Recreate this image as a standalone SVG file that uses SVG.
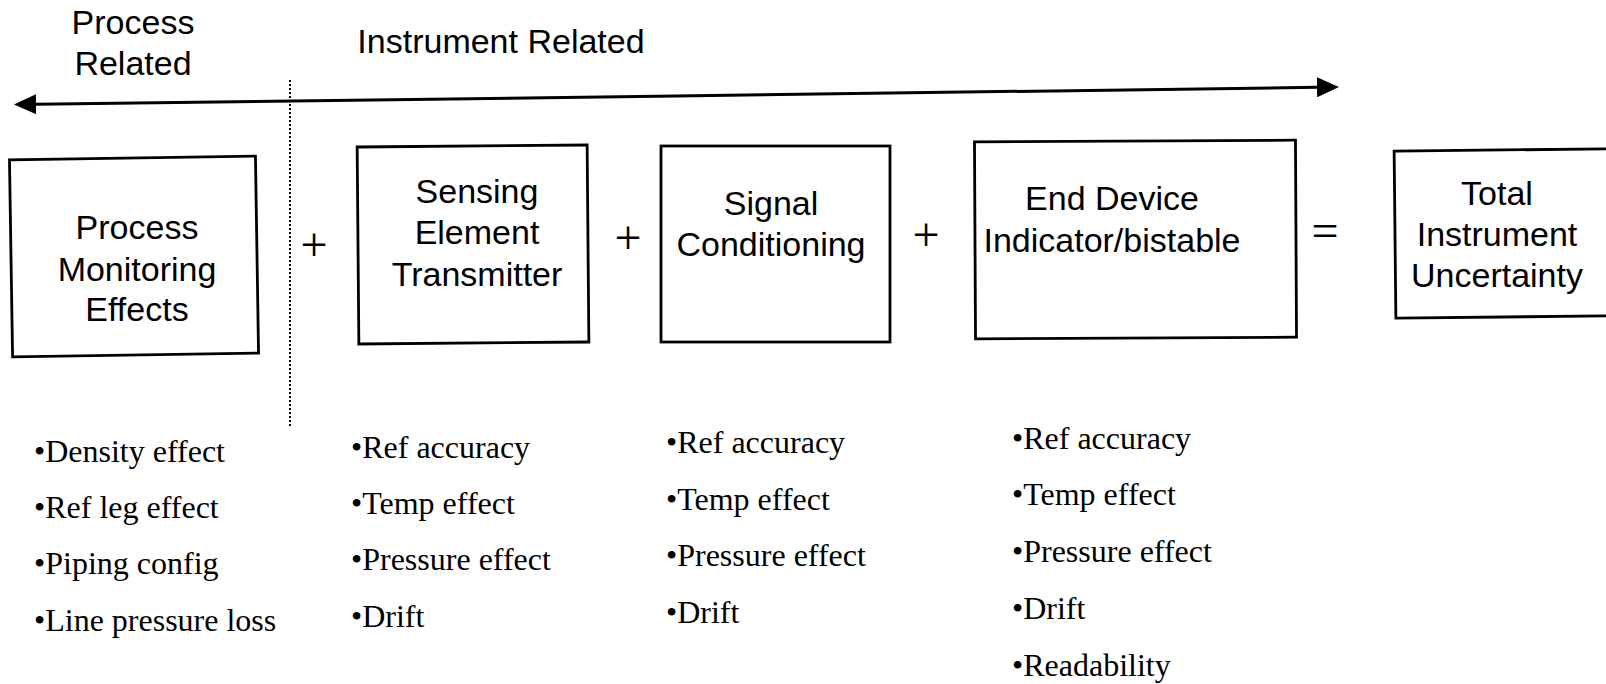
<svg xmlns="http://www.w3.org/2000/svg" width="1606" height="684" viewBox="0 0 1606 684">
<defs>
<style>
.box{fill:none;stroke:#000;stroke-width:2.8}
.hd{font-family:"Liberation Sans",Arial,sans-serif;font-size:34px;fill:#000;text-anchor:middle}
.bl{font-family:"Liberation Serif","Times New Roman",serif;font-size:32px;fill:#000}
.op{font-family:"Liberation Serif","Times New Roman",serif;font-size:48px;fill:#000;text-anchor:middle}
</style>
<marker id="ah" viewBox="0 0 22 20" refX="0" refY="10" markerWidth="22" markerHeight="20" markerUnits="userSpaceOnUse" orient="auto">
<path d="M0,0 L22,10 L0,20 Z" fill="#000"/>
</marker>
</defs>
<rect width="1606" height="684" fill="#fff"/>
<g id="labels">
<text class="hd" x="133" y="34">Process</text>
<text class="hd" x="133" y="75">Related</text>
<text class="hd" x="501" y="53">Instrument Related</text>
</g>
<g id="connectors">
<line x1="676" y1="96" x2="1317" y2="87.3" stroke="#000" stroke-width="3" marker-end="url(#ah)"/>
<line x1="676" y1="96" x2="36" y2="104.2" stroke="#000" stroke-width="3" marker-end="url(#ah)"/>
<line x1="290" y1="80" x2="290" y2="426" stroke="#000" stroke-width="2" stroke-dasharray="2,2"/>
</g>
<g id="node-process">
<rect class="box" x="11" y="158" width="246" height="197" transform="rotate(-0.9 134 256)"/>
<text class="hd" x="137" y="239">Process</text>
<text class="hd" x="137" y="281">Monitoring</text>
<text class="hd" x="137" y="321">Effects</text>
</g>
<g id="node-sensing">
<rect class="box" x="358" y="146" width="230" height="197" transform="rotate(-0.5 473 244)"/>
<text class="hd" x="477" y="203">Sensing</text>
<text class="hd" x="477" y="244">Element</text>
<text class="hd" x="477" y="286">Transmitter</text>
</g>
<g id="node-signal">
<rect class="box" x="661" y="146" width="229" height="196"/>
<text class="hd" x="771" y="215">Signal</text>
<text class="hd" x="771" y="256">Conditioning</text>
</g>
<g id="node-enddevice">
<rect class="box" x="975" y="141" width="321" height="197" transform="rotate(-0.3 1135 240)"/>
<text class="hd" x="1112" y="210">End Device</text>
<text class="hd" x="1112" y="252">Indicator/bistable</text>
</g>
<g id="node-total">
<rect class="box" x="1395" y="150" width="220" height="167" transform="rotate(-0.6 1500 234)"/>
<text class="hd" x="1497" y="205">Total</text>
<text class="hd" x="1497" y="246">Instrument</text>
<text class="hd" x="1497" y="287">Uncertainty</text>
</g>
<g id="operators">
<text class="op" x="314" y="261">+</text>
<text class="op" x="628" y="254">+</text>
<text class="op" x="926" y="251">+</text>
<text class="op" x="1325" y="247">=</text>
</g>
<g id="list-process">
<text class="bl" x="34" y="462">•Density effect</text>
<text class="bl" x="34" y="518">•Ref leg effect</text>
<text class="bl" x="34" y="574">•Piping config</text>
<text class="bl" x="34" y="631">•Line pressure loss</text>
</g>
<g id="list-sensing">
<text class="bl" x="351" y="458">•Ref accuracy</text>
<text class="bl" x="351" y="514">•Temp effect</text>
<text class="bl" x="351" y="570">•Pressure effect</text>
<text class="bl" x="351" y="627">•Drift</text>
</g>
<g id="list-signal">
<text class="bl" x="666" y="453">•Ref accuracy</text>
<text class="bl" x="666" y="510">•Temp effect</text>
<text class="bl" x="666" y="566">•Pressure effect</text>
<text class="bl" x="666" y="623">•Drift</text>
</g>
<g id="list-enddevice">
<text class="bl" x="1012" y="449">•Ref accuracy</text>
<text class="bl" x="1012" y="505">•Temp effect</text>
<text class="bl" x="1012" y="562">•Pressure effect</text>
<text class="bl" x="1012" y="619">•Drift</text>
<text class="bl" x="1012" y="676">•Readability</text>
</g>
</svg>
